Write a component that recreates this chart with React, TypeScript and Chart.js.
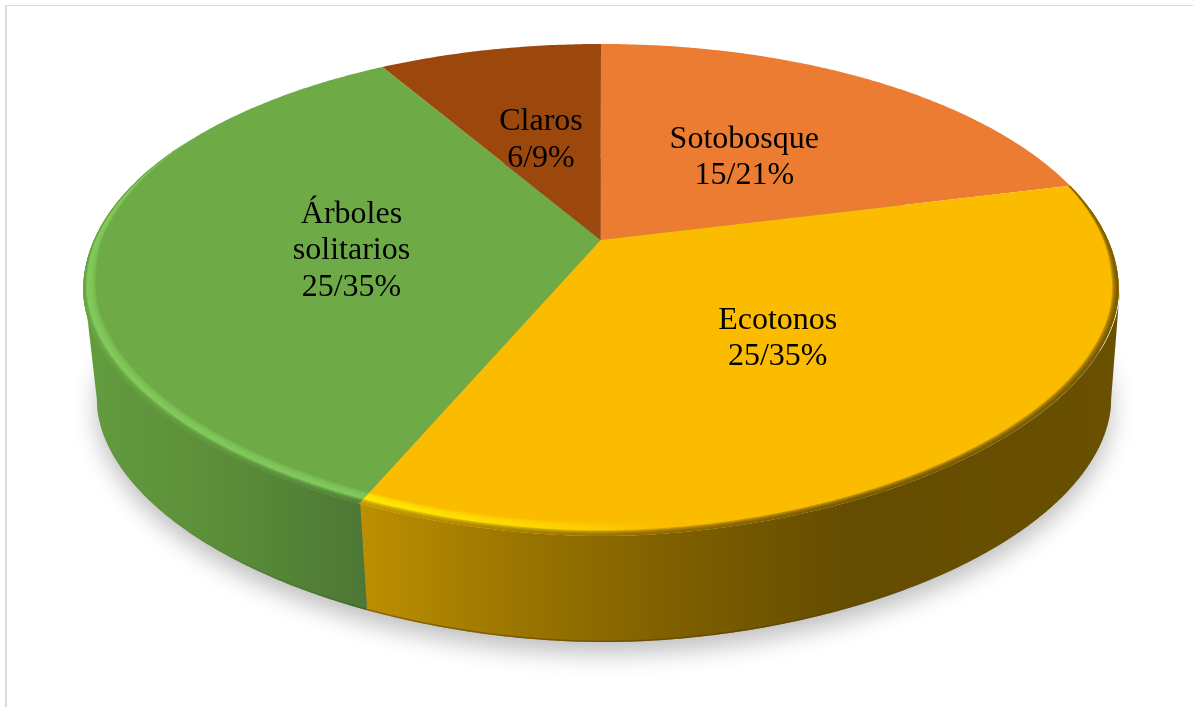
import React, { useEffect, useRef } from "react";
import { Chart, registerables } from "chart.js";

Chart.register(...registerables);

// Habitat categories, counts and the published percentages
const categories = ["Sotobosque", "Ecotonos", "Árboles solitarios", "Claros"];
const labelLines = [["Sotobosque"], ["Ecotonos"], ["Árboles", "solitarios"], ["Claros"]];
const counts = [15, 25, 25, 6];
const percents = [21, 35, 35, 9];
const topColors = ["#EB7C32", "#FBBC00", "#6EAB47", "#9C470C"];

// Horizontal shading of the side wall, per visible slice: [offset, colour]
const wallStops: Record<number, [number, string][]> = {
  1: [[0, "#bd8f00"], [0.2, "#9c7600"], [0.45, "#7a5c00"], [0.65, "#644c00"], [1, "#6a5000"]],
  2: [[0, "#639c3f"], [0.5, "#5b8d38"], [1, "#4c7735"]],
};
// Rim highlight colours, per visible slice
const rimStops: Record<number, [number, string][]> = {
  1: [[0, "#fff000"], [0.25, "#ffd800"], [0.4, "#fbbc00"], [1, "#fbbc00"]],
  2: [[0, "#82cc5c"], [1, "#82cc5c"]],
};

type Plane = { x0: number; y0: number; a: number; b: number; k: number };
// Perspective disc planes: the upper face and the base of the cylinder
const upper: Plane = { x0: 602, y0: 240, a: 507, b: 235.8, k: 0.203 };
const lower: Plane = { x0: 604, y0: 351, a: 496.5, b: 232, k: 0.203 };
const frontSquare = 1.9;

const wallFrom = Math.acos(-upper.k);
const wallTo = Math.PI * 2 - wallFrom;
const rimFrom = (62 * Math.PI) / 180;
const rimTo = (298 * Math.PI) / 180;
const labelRadii = [0.495, 0.495, 0.49, 0.495];
const labelDrop = 3;
const fontPx = 32;
const lineStep = 36.5;

// theta is measured clockwise from twelve o'clock. The front half of the
// outline is flattened slightly towards a superellipse.
function project(p: Plane, theta: number, r = 1): [number, number] {
  const u = Math.sin(theta) * r;
  const v = Math.cos(theta) * r;
  const w = 1 + p.k * v;
  const x = p.x0 + (p.a * u) / w;
  const y = p.y0 - (p.b * v) / w;
  const top = p.y0 - p.b / (1 + p.k);
  const bottom = p.y0 + p.b / (1 - p.k);
  const cy = (top + bottom) / 2;
  if (y <= cy) return [x, y];
  const halfW = p.a / Math.sqrt(1 - p.k * p.k);
  const nx = Math.min(0.99999, Math.abs(x - p.x0) / halfW);
  const g = Math.pow(1 - Math.pow(nx, frontSquare), 1 / frontSquare) / Math.sqrt(1 - nx * nx);
  return [x, cy + (y - cy) * g];
}

function samples(from: number, to: number): number[] {
  const n = Math.max(2, Math.ceil((to - from) / 0.01));
  const out: number[] = [];
  for (let i = 0; i <= n; i++) out.push(from + ((to - from) * i) / n);
  return out;
}

function xGradient(ctx: CanvasRenderingContext2D, x0: number, x1: number, stops: [number, string][]) {
  const g = ctx.createLinearGradient(x0, 0, x1, 0);
  stops.forEach(([o, c]) => g.addColorStop(o, c));
  return g;
}

function rimTaper(theta: number): number {
  const edge = 0.62;
  const t = Math.min(1, Math.min(theta - rimFrom, rimTo - theta) / edge);
  return Math.max(0, t);
}

// One band along the front rim; it narrows towards the sides by sideFactor
function rimBand(ctx: CanvasRenderingContext2D, from: number, to: number, width: number, sideFactor: number) {
  const a = Math.max(from, rimFrom);
  const b = Math.min(to, rimTo);
  if (b <= a) return;
  const ts = samples(a, b);
  ctx.beginPath();
  ts.forEach((t, i) => {
    const [x, y] = project(upper, t, 1);
    if (i) ctx.lineTo(x, y);
    else ctx.moveTo(x, y);
  });
  ts.slice().reverse().forEach((t) => {
    const side = sideFactor + (1 - sideFactor) * Math.abs(Math.cos(t));
    const [x, y] = project(upper, t, 1 - width * rimTaper(t) * side);
    ctx.lineTo(x, y);
  });
  ctx.closePath();
  ctx.fill();
}

const cylinderPlugin = {
  id: "cylinder",
  beforeDatasetDraw(chart: any) {
    const ctx: CanvasRenderingContext2D = chart.ctx;
    const arcs = chart.getDatasetMeta(0).data;
    const spans = arcs.map((arc: any) => {
      const q = arc.getProps(["startAngle", "endAngle"], true);
      return [q.startAngle + Math.PI / 2, q.endAngle + Math.PI / 2];
    });

    // soft shadow under the base
    ctx.save();
    ctx.shadowColor = "rgba(0,0,0,0.26)";
    ctx.shadowBlur = 24;
    ctx.shadowOffsetY = 11;
    ctx.fillStyle = "#8a8a8a";
    ctx.beginPath();
    samples(0, Math.PI * 2).forEach((t, i) => {
      const [x, y] = project(lower, t);
      if (i) ctx.lineTo(x, y);
      else ctx.moveTo(x, y);
    });
    ctx.closePath();
    ctx.fill();
    ctx.restore();

    // side wall
    spans.forEach(([s, e]: number[], i: number) => {
      const a = Math.max(s, wallFrom);
      const b = Math.min(e, wallTo);
      if (b <= a) return;
      const ts = samples(a, b);
      const pts = ts.map((t) => project(upper, t)).concat(ts.slice().reverse().map((t) => project(lower, t)));
      const xs = pts.map((p) => p[0]);
      const x0 = Math.min(...xs);
      const x1 = Math.max(...xs);
      ctx.fillStyle = xGradient(ctx, x0, x1, wallStops[i]);
      ctx.beginPath();
      pts.forEach((p, n) => (n ? ctx.lineTo(p[0], p[1]) : ctx.moveTo(p[0], p[1])));
      ctx.closePath();
      ctx.fill();
      // darker lip where the wall meets the base, strongest around the front
      const lip = ctx.createLinearGradient(x0, 0, x1, 0);
      if (i === 2) {
        lip.addColorStop(0.35, "rgba(40,60,10,0)");
        lip.addColorStop(1, "rgba(40,50,10,0.25)");
      } else {
        lip.addColorStop(0, "rgba(50,30,0,0.35)");
        lip.addColorStop(0.5, "rgba(50,30,0,0.25)");
        lip.addColorStop(0.68, "rgba(50,30,0,0)");
      }
      ctx.save();
      ctx.clip();
      ctx.strokeStyle = lip;
      ctx.lineWidth = 3;
      ctx.beginPath();
      ts.forEach((t, n) => {
        const [x, y] = project(lower, t);
        if (n) ctx.lineTo(x, y);
        else ctx.moveTo(x, y);
      });
      ctx.stroke();
      ctx.restore();
    });

    // top face
    spans.forEach(([s, e]: number[], i: number) => {
      ctx.fillStyle = topColors[i];
      ctx.beginPath();
      ctx.moveTo(upper.x0 - 1.5, upper.y0);
      samples(s, e).forEach((t) => {
        const [x, y] = project(upper, t);
        ctx.lineTo(x - 1, y);
      });
      ctx.closePath();
      ctx.fill();
    });

    // bevel: a highlight ramp, then a falloff into the wall colour
    spans.forEach(([s, e]: number[], i: number) => {
      if (!wallStops[i]) return;
      const a = Math.max(s, rimFrom);
      const b = Math.min(e, rimTo);
      const xsArc = samples(a, b).map((t) => project(upper, t)[0]);
      const x0 = Math.min(...xsArc);
      const x1 = Math.max(...xsArc);
      ctx.save();
      ctx.translate(-1, 0);
      ctx.fillStyle = xGradient(ctx, x0, x1, rimStops[i]);
      for (let l = 0; l < 7; l++) {
        ctx.globalAlpha = 0.3;
        rimBand(ctx, s, e, 0.036 - l * 0.003, 0.55);
      }
      ctx.fillStyle = xGradient(ctx, x0, x1, wallStops[i]);
      for (let l = 0; l < 7; l++) {
        ctx.globalAlpha = 0.28;
        rimBand(ctx, s, e, 0.015 - l * 0.002, i === 1 ? 0.8 : 0.3);
      }
      ctx.restore();
    });

    // data labels
    ctx.save();
    ctx.fillStyle = "#000000";
    ctx.font = `${fontPx}px "Liberation Serif"`;
    ctx.textAlign = "center";
    ctx.textBaseline = "middle";
    spans.forEach(([s, e]: number[], i: number) => {
      const [x, y] = project(upper, (s + e) / 2, labelRadii[i]);
      const lines = [...labelLines[i], `${counts[i]}/${percents[i]}%`];
      lines.forEach((line, n) => {
        ctx.fillText(line, x - 1, y + labelDrop + (n - (lines.length - 1) / 2) * lineStep);
      });
    });
    ctx.restore();
    return false;
  },
};

export default function App() {
  const ref = useRef<HTMLCanvasElement>(null);
  useEffect(() => {
    const chart = new Chart(ref.current!, {
      type: "pie",
      data: {
        labels: categories,
        datasets: [{ data: counts, backgroundColor: topColors, borderWidth: 0 }],
      },
      options: {
        animation: false,
        responsive: false,
        plugins: { legend: { display: false }, tooltip: { enabled: false } },
      },
      plugins: [cylinderPlugin],
    } as any);
    return () => chart.destroy();
  }, []);
  return (
    <div style={{ position: "fixed", inset: 0, background: "#fff", overflow: "hidden" }}>
      <canvas ref={ref} width={1193} height={707} style={{ position: "absolute", left: 0, top: 0 }} />
      <div
        style={{
          position: "absolute",
          left: 5,
          top: 5,
          right: 0,
          bottom: 0,
          borderLeft: "2px solid #d9d9d9",
          borderTop: "1px solid #d9d9d9",
        }}
      />
    </div>
  );
}
